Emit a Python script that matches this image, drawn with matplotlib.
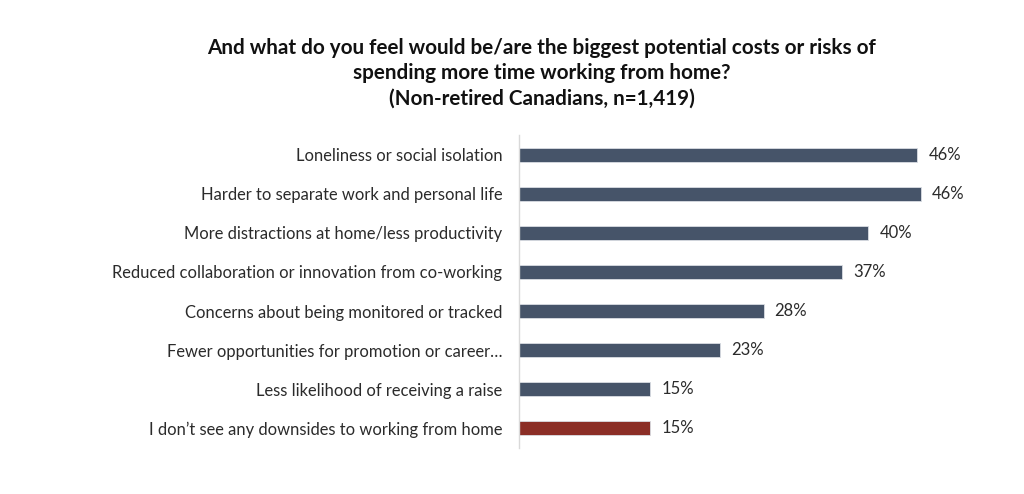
import matplotlib
matplotlib.use("Agg")
import matplotlib.pyplot as plt

categories = [
    "Loneliness or social isolation",
    "Harder to separate work and personal life",
    "More distractions at home/less productivity",
    "Reduced collaboration or innovation from co-working",
    "Concerns about being monitored or tracked",
    "Fewer opportunities for promotion or career\u2026",
    "Less likelihood of receiving a raise",
    "I don\u2019t see any downsides to working from home",
]
values = [45.6, 46.0, 40.0, 37.0, 28.0, 23.0, 15.0, 15.0]
labels = ["46%", "46%", "40%", "37%", "28%", "23%", "15%", "15%"]
colors = ["#465469"] * 7 + ["#8B2E26"]

title = ("And what do you feel would be/are the biggest potential costs or risks of\n"
         "spending more time working from home?\n"
         "(Non-retired Canadians, n=1,419)")

plt.rcParams['font.family'] = ['Lato', 'DejaVu Sans']

fig = plt.figure(figsize=(10.24, 4.94), dpi=100)
ax = fig.add_axes([519/1024, 46/494, 524/1024, 313/494])

ypos = list(range(len(categories)))
ax.barh(ypos, values, height=0.36, color=colors, edgecolor="#d9dde3", linewidth=0.6)
ax.set_xlim(0, 60)
ax.set_ylim(len(categories) - 0.5, -0.5)
ax.set_yticks(ypos)
ax.set_yticklabels(categories, fontsize=11.9, color="#2b2b2b")
ax.tick_params(axis='y', length=0, pad=12)
ax.set_xticks([])
for s in ["top", "right", "bottom"]:
    ax.spines[s].set_visible(False)
ax.spines["left"].set_color("#d9d9d9")
ax.spines["left"].set_linewidth(1.0)

for y, v, lab in zip(ypos, values, labels):
    ax.annotate(lab, xy=(v, y), xytext=(8, 0), textcoords="offset points",
                va="center", ha="left", fontsize=12, color="#2b2b2b")

fig.text(0.529, 0.852, title, ha="center", va="center", fontsize=14.9,
         fontweight="bold", color="#111111", linespacing=1.33)

fig.savefig("out.png", dpi=100, facecolor="white")
